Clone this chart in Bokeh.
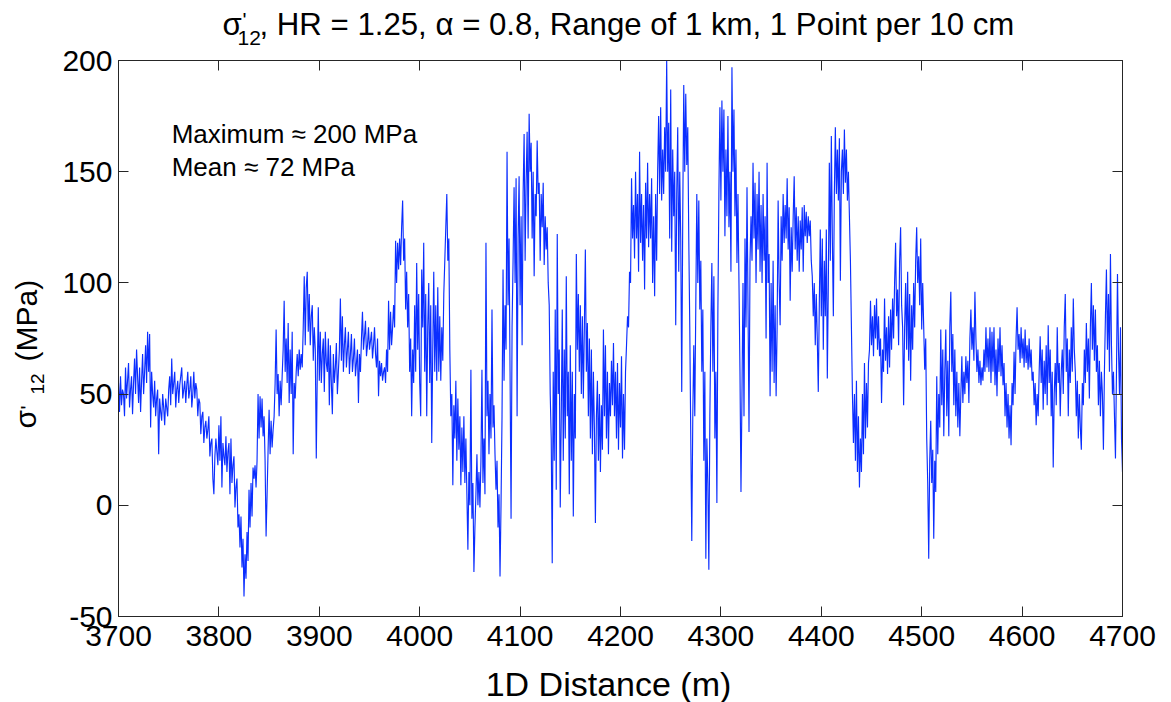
import numpy as np
from bokeh.plotting import figure
from bokeh.models import (Range1d, FixedTicker, LinearAxis, Label, CustomLabelingPolicy,
                          GridBox, Plot)
from bokeh.layouts import column, row
from bokeh.embed import file_html
from bokeh.resources import INLINE

# sigma'_12 (MPa), one value per metre from 3700 m
seg_3700 = [55, 42, 58, 45, 52, 50, 40, 62, 48, 56,
            64, 44, 52, 58, 41, 55, 66, 50, 70, 58,
            46, 62, 42, 56, 68, 50, 60, 72, 55, 78,
            60, 77, 35, 60, 50, 44, 56, 40, 48, 52,
            23, 48, 42, 38, 50, 44, 36, 48, 44, 40,
            52, 58, 45, 66, 50, 55, 60, 44, 52, 56,
            46, 54, 58, 62, 48, 52, 56, 46, 54, 60,
            48, 52, 58, 44, 50, 60, 48, 55, 52, 40,
            48, 46, 32, 40, 42, 28, 35, 38, 30, 34,
            40, 22, 28, 30, 12, 5, 22, 30, 24, 18]
seg_3800 = [36, 20, 40, 8, 28, 22, 18, 31, 15, 24,
            28, 5, 30, 10, 18, 22, -1, 8, 12, -10,
            -4, -19, -5, -28, -15, -41, -22, -33, -12, -25,
            7, -10, 10, -5, 17, 12, 18, 8, 20, 50,
            30, 49, 35, 48, 31, 40, 20, -14, 5, 25,
            43, 23, 38, 26, 34, 40, 55, 79, 50, 59,
            40, 56, 45, 58, 70, 92, 60, 75, 55, 82,
            46, 70, 50, 78, 23, 55, 48, 60, 68, 58,
            70, 61, 68, 62, 80, 103, 72, 98, 105, 78,
            95, 72, 85, 90, 65, 80, 70, 21, 60, 89]
seg_3900 = [56, 78, 55, 68, 75, 51, 78, 64, 60, 75,
            45, 72, 55, 41, 68, 55, 62, 73, 50, 60,
            70, 93, 65, 85, 60, 72, 80, 62, 70, 78,
            59, 68, 77, 60, 66, 75, 58, 64, 70, 46,
            68, 60, 75, 87, 70, 76, 83, 67, 72, 80,
            70, 74, 78, 66, 72, 80, 68, 62, 75, 49,
            65, 58, 64, 56, 60, 62, 55, 70, 60, 92,
            70, 87, 72, 80, 90, 80, 119, 100, 118, 106,
            120, 108, 125, 137, 110, 120, 88, 105, 80, 95,
            60, 75, 40, 70, 55, 90, 60, 109, 70, 95]
seg_4000 = [55, 40, 106, 80, 118, 60, 95, 40, 80, 100,
            55, 90, 28, 70, 105, 60, 90, 56, 98, 60,
            85, 56, 80, 65, 95, 110, 125, 140, 110, 120,
            70, 40, 50, 9, 45, 30, 56, 20, 48, 25,
            40, 9, 35, 15, 40, 10, 30, 5, -20, 15,
            0, 61, -6, 10, -30, -10, 5, 23, 0, 15,
            -1, 20, 61, 10, 30, 5, 118, 40, 56, 23,
            50, 30, 88, 35, 45, 23, 7, 20, -10, 5,
            -32, 0, 40, 106, 56, 90, 70, 159, 90, 120,
            60, -6, 80, 110, 143, 100, 147, 40, 120, 148]
seg_4100 = [90, 130, 72, 140, 167, 110, 145, 168, 120, 176,
            150, 163, 120, 150, 103, 140, 130, 164, 140, 145,
            110, 140, 125, 145, 108, 130, 115, 125, 100, 90,
            50, 30, -26, 60, 20, 88, 7, 122, 50, 70,
            -1, 40, 88, 20, 70, 30, 103, 40, 60, 5,
            72, 20, 60, -5, 50, 30, 113, 70, 95, 60,
            90, 50, 85, 48, 80, 115, 60, 82, 40, 75,
            30, 70, 23, 60, 35, -8, 40, 56, 20, 50,
            15, 45, 25, 79, 40, 72, 30, 60, 23, 55,
            40, 65, 45, 73, 40, 60, 30, 64, 25, 55]
seg_4200 = [35, 67, 21, 50, 25, 60, 72, 85, 80, 105,
            100, 147, 120, 135, 111, 150, 120, 140, 105, 159,
            118, 140, 110, 135, 97, 145, 120, 154, 116, 140,
            120, 147, 100, 130, 94, 140, 110, 150, 175, 140,
            179, 137, 160, 140, 170, 150, 200, 150, 172, 120,
            187, 114, 160, 130, 150, 81, 140, 170, 105, 150,
            120, 51, 130, 189, 150, 185, 153, 170, 120, 80,
            30, -16, 40, 72, 40, 90, 140, 100, 137, 88,
            110, 60, 88, 20, 60, -24, 30, 10, -29, 40,
            80, 109, 60, 103, 30, 60, 1, 88, 140, 179]
seg_4300 = [137, 182, 150, 178, 121, 160, 130, 175, 125, 150,
            105, 197, 150, 178, 130, 160, 109, 140, 100, 60,
            6, 50, 100, 40, 120, 80, 143, 90, 33, 110,
            130, 110, 154, 120, 145, 100, 140, 115, 150, 105,
            135, 100, 140, 110, 130, 75, 154, 100, 113, 49,
            100, 60, 110, 55, 90, 49, 80, 137, 100, 81,
            130, 110, 140, 118, 135, 120, 147, 115, 134, 92,
            125, 105, 130, 148, 115, 134, 110, 130, 105, 128,
            115, 134, 105, 135, 121, 132, 118, 130, 121, 128,
            110, 103, 85, 100, 72, 95, 75, 51, 90, 124]
seg_4400 = [85, 120, 70, 110, 85, 124, 57, 100, 154, 110,
            166, 120, 85, 140, 170, 140, 160, 137, 165, 101,
            150, 160, 140, 169, 145, 160, 137, 150, 130, 110,
            80, 50, 28, 50, 20, 56, 15, 40, 8, 30,
            15, 50, 23, 64, 30, 55, 35, 64, 70, 92,
            72, 85, 67, 90, 75, 93, 70, 85, 67, 75,
            46, 70, 60, 93, 65, 80, 59, 85, 62, 88,
            70, 93, 75, 100, 118, 85, 97, 72, 110, 125,
            90, 80, 45, 80, 100, 70, 105, 65, 95, 56,
            90, 70, 100, 80, 110, 125, 100, 112, 90, 120]
seg_4500 = [79, 100, 80, 61, 75, 30, 10, -24, 20, 38,
            10, 25, -15, 20, 6, 58, 23, 50, 35, 79,
            45, 70, 31, 60, 79, 40, 65, 31, 80, 96,
            60, 77, 45, 70, 40, 60, 35, 55, 31, 50,
            67, 46, 60, 50, 67, 55, 65, 46, 75, 88,
            70, 80, 65, 96, 75, 60, 70, 55, 65, 54,
            62, 56, 70, 60, 80, 62, 75, 60, 80, 55,
            78, 60, 80, 54, 70, 49, 75, 60, 80, 58,
            72, 54, 64, 40, 55, 35, 50, 30, 45, 27,
            55, 45, 69, 50, 75, 89, 70, 77, 64, 80]
seg_4600 = [66, 75, 62, 79, 64, 72, 61, 75, 62, 70,
            56, 60, 45, 55, 36, 50, 40, 60, 76, 55,
            70, 43, 65, 50, 72, 45, 81, 55, 70, 40,
            60, 17, 50, 64, 45, 80, 55, 64, 40, 60,
            70, 50, 80, 95, 60, 75, 40, 70, 55, 80,
            60, 93, 70, 60, 40, 56, 30, 50, 35, 25,
            55, 45, 70, 55, 82, 60, 75, 48, 80, 100,
            70, 90, 65, 88, 60, 72, 45, 65, 40, 60,
            50, 25, 60, 85, 106, 70, 95, 60, 113, 72,
            50, 60, 40, 21, 60, 104, 70, 50, 80, 30]
seg_4700 = [15]

stress_mpa = (seg_3700 + seg_3800 + seg_3900 + seg_4000 + seg_4100 + seg_4200
              + seg_4300 + seg_4400 + seg_4500 + seg_4600 + seg_4700)
start_m = 3700
distance_m = np.arange(start_m, start_m + len(stress_mpa))

x_ticks = [3700, 3800, 3900, 4000, 4100, 4200, 4300, 4400, 4500, 4600, 4700]
y_ticks = [-50, 0, 50, 100, 150, 200]
y_tick_text = {-50: "-50", 0: "0", 50: "50", 100: "100", 150: "150", 200: "200"}

FONT = "Liberation Sans"
AX = "#262626"
LINE = "#0b2eff"
W, H = 1171, 702
FRAME_L, FRAME_R, FRAME_T, FRAME_B = 118, 1122, 60, 616   # page pixels
MID = 0.3465  # label anchor sits this many ems above the text baseline
CAN_OVERLAY = "frame_align" in Plot.properties()


def add_label(fig, x, y, text, size, angle=0.0, align="left"):
    fig.add_layout(Label(x=x, y=y, text=text, text_font=FONT,
                         text_font_size=f"{size}px", text_color="black", angle=angle,
                         text_align=align, text_baseline="alphabetic"))


def make_main(width, height, left, top):
    p = figure(width=width, height=height, output_backend="svg", toolbar_location=None,
               title=None, x_range=Range1d(3700, 4700), y_range=Range1d(-50, 200),
               min_border_left=FRAME_L - left, min_border_right=W - FRAME_R,
               min_border_top=FRAME_T - top, min_border_bottom=(top + height) - FRAME_B,
               background_fill_color="white", border_fill_color="white")
    p.grid.visible = False
    p.outline_line_color = AX
    p.outline_line_width = 1

    p.line(distance_m, stress_mpa, line_color=LINE, line_width=1.15)

    for ax in (p.xaxis[0], p.yaxis[0]):
        ax.major_tick_in = 10
        ax.major_tick_out = 0
        ax.minor_tick_line_color = None
        ax.axis_line_color = AX
        ax.major_tick_line_color = AX
        ax.major_label_text_font = FONT
        ax.major_label_text_font_size = "30px"
        ax.major_label_text_color = "black"
    p.xaxis[0].ticker = FixedTicker(ticks=x_ticks)
    p.yaxis[0].ticker = FixedTicker(ticks=y_ticks)
    p.yaxis[0].major_label_overrides = y_tick_text
    p.xaxis[0].major_label_standoff = 9
    p.yaxis[0].major_label_standoff = 6

    no_labels = CustomLabelingPolicy(code="return new Set()")
    for loc, tk in (("above", x_ticks), ("right", y_ticks)):
        a = LinearAxis(ticker=FixedTicker(ticks=tk), major_tick_in=10, major_tick_out=0,
                       minor_tick_line_color=None, axis_line_color=AX,
                       major_tick_line_color=AX, major_label_text_font_size="1px",
                       major_label_standoff=0, major_label_policy=no_labels)
        p.add_layout(a, loc)

    # annotation (baselines at page rows 141 and 175)
    px_per_mpa = (FRAME_B - FRAME_T) / 250
    add_label(p, 3753, 163 + MID * 26 / px_per_mpa, "Maximum ≈ 200 MPa", 26)
    add_label(p, 3753, 148 + MID * 26 / px_per_mpa, "Mean ≈ 72 MPa", 26)
    return p


def text_panel(width, height, transparent=False):
    f = figure(width=width, height=height, output_backend="svg", toolbar_location=None,
               x_range=Range1d(0, width), y_range=Range1d(0, height),
               x_axis_type=None, y_axis_type=None, min_border=0, title=None,
               background_fill_color="white", border_fill_color="white")
    if transparent:
        f.background_fill_alpha = 0
        f.border_fill_alpha = 0
    f.grid.visible = False
    f.outline_line_color = None
    return f


def put_texts(panel, off_x, off_y, height):
    """Title and axis titles; positions are page pixels, panel starts at (off_x, off_y)."""
    def piece(x, base_py, text, size, align="left"):
        add_label(panel, x - off_x, (off_y + height) - base_py + MID * size, text, size,
                  align=align)

    def vpiece(base_px, start_py, text, size):
        add_label(panel, base_px - off_x - MID * size, (off_y + height) - start_py, text,
                  size, angle=np.pi / 2)
    return piece, vpiece


if CAN_OVERLAY:
    p = make_main(W, H, 0, 0)
    txt = text_panel(W, H, transparent=True)
    txt.frame_align = False
    p.frame_align = False
    piece, vpiece = put_texts(txt, 0, 0, H)
    title_piece, ylab_piece, xlab_piece = piece, vpiece, piece
else:
    TOP, LEFT, BOTTOM = 50, 60, 40
    p = make_main(W - LEFT, H - TOP - BOTTOM, LEFT, TOP)
    title_fig = text_panel(W, TOP)
    ylab_fig = text_panel(LEFT, H - TOP - BOTTOM)
    xlab_fig = text_panel(W, BOTTOM)
    title_piece, _ = put_texts(title_fig, 0, 0, TOP)
    _, ylab_piece = put_texts(ylab_fig, 0, TOP, H - TOP - BOTTOM)
    xlab_piece, _ = put_texts(xlab_fig, 0, H - BOTTOM, BOTTOM)

# title: sigma'_12, HR = ...
title_piece(222, 35, "σ", 31.2)
title_piece(242, 26, "'", 21)
title_piece(237, 45, "12", 21)
title_piece(259, 35, ", HR = 1.25, α = 0.8, Range of 1 km, 1 Point per 10 cm", 31.2)

# y axis title: sigma '_12 (MPa)  (rotated; text starts at the given page row)
ylab_piece(35, 428, "σ", 30)
ylab_piece(34, 409, "'", 21)
ylab_piece(44, 394, "12", 19)
ylab_piece(36, 361, "(MPa)", 30)

# x axis title
xlab_piece(608, 695, "1D Distance (m)", 34, align="center")

if CAN_OVERLAY:
    layout = GridBox(children=[(p, 0, 0), (txt, 0, 0)])
else:
    layout = column(title_fig, row(ylab_fig, p, spacing=0), xlab_fig, spacing=0)
open("out.html", "w").write(file_html(layout, INLINE))
